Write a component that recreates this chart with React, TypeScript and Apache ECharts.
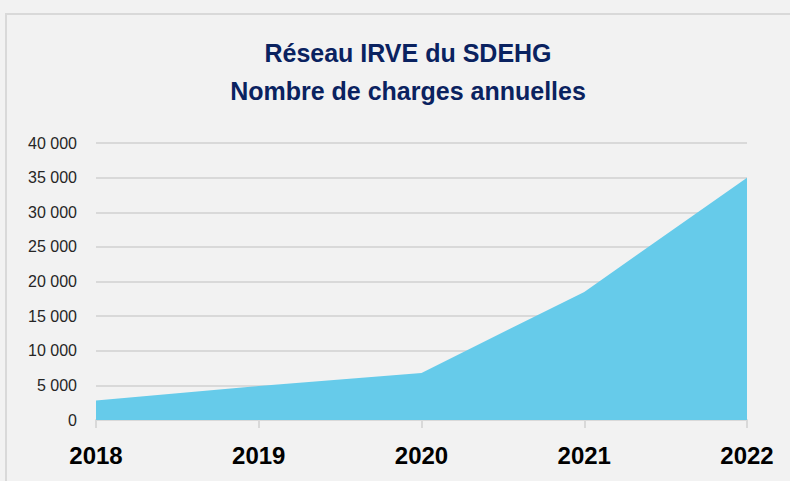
import React, { useEffect, useRef } from "react";
import * as echarts from "echarts";

const years = ["2018", "2019", "2020", "2021", "2022"];
const charges = [2800, 4900, 6800, 18500, 35000];
const titleLines = ["Réseau IRVE du SDEHG", "Nombre de charges annuelles"];

const FONT = "'Liberation Sans', Arial, sans-serif";

export default function App() {
  const ref = useRef<HTMLDivElement>(null);
  useEffect(() => {
    const chart = echarts.init(ref.current!, null, { renderer: "svg" });
    chart.setOption({
      animation: false,
      backgroundColor: "#F2F2F2",
      title: {
        text: titleLines.join("\n"),
        left: 403,
        textAlign: "center",
        top: 29,
        textStyle: {
          fontFamily: FONT,
          fontSize: 25,
          fontWeight: "bold",
          color: "#0A2260",
          lineHeight: 38,
        },
      },
      graphic: [
        {
          type: "rect",
          shape: { x: 6, y: 14, width: 900, height: 600 },
          style: { fill: "none", stroke: "#D9D9D9", lineWidth: 2 },
          silent: true,
        },
      ],
      grid: { left: 96, right: 43, top: 143, bottom: 61 },
      xAxis: {
        type: "category",
        data: years,
        boundaryGap: false,
        axisLine: { lineStyle: { color: "#D9D9D9", width: 2 } },
        axisTick: { show: true, length: 8, lineStyle: { color: "#D9D9D9", width: 2 } },
        axisLabel: {
          margin: 23,
          fontFamily: FONT,
          fontSize: 24,
          fontWeight: "bold",
          color: "#000000",
        },
      },
      yAxis: {
        type: "value",
        min: 0,
        max: 40000,
        interval: 5000,
        axisLine: { show: false },
        axisTick: { show: false },
        splitLine: { lineStyle: { color: "#D9D9D9", width: 2 } },
        axisLabel: {
          margin: 19,
          fontFamily: FONT,
          fontSize: 16,
          color: "#262626",
          formatter: (v: number) => String(v).replace(/\B(?=(\d{3})+(?!\d))/g, " "),
        },
      },
      series: [
        {
          type: "line",
          data: charges,
          symbol: "none",
          lineStyle: { width: 0, color: "#66CBEA" },
          itemStyle: { color: "#66CBEA" },
          areaStyle: { color: "#66CBEA", opacity: 1 },
        },
      ],
    });
    return () => chart.dispose();
  }, []);
  return (
    <div style={{ position: "fixed", left: 0, top: 0, width: 790, height: 481, background: "#F2F2F2" }}>
      <div ref={ref} style={{ width: 790, height: 481 }} />
    </div>
  );
}
